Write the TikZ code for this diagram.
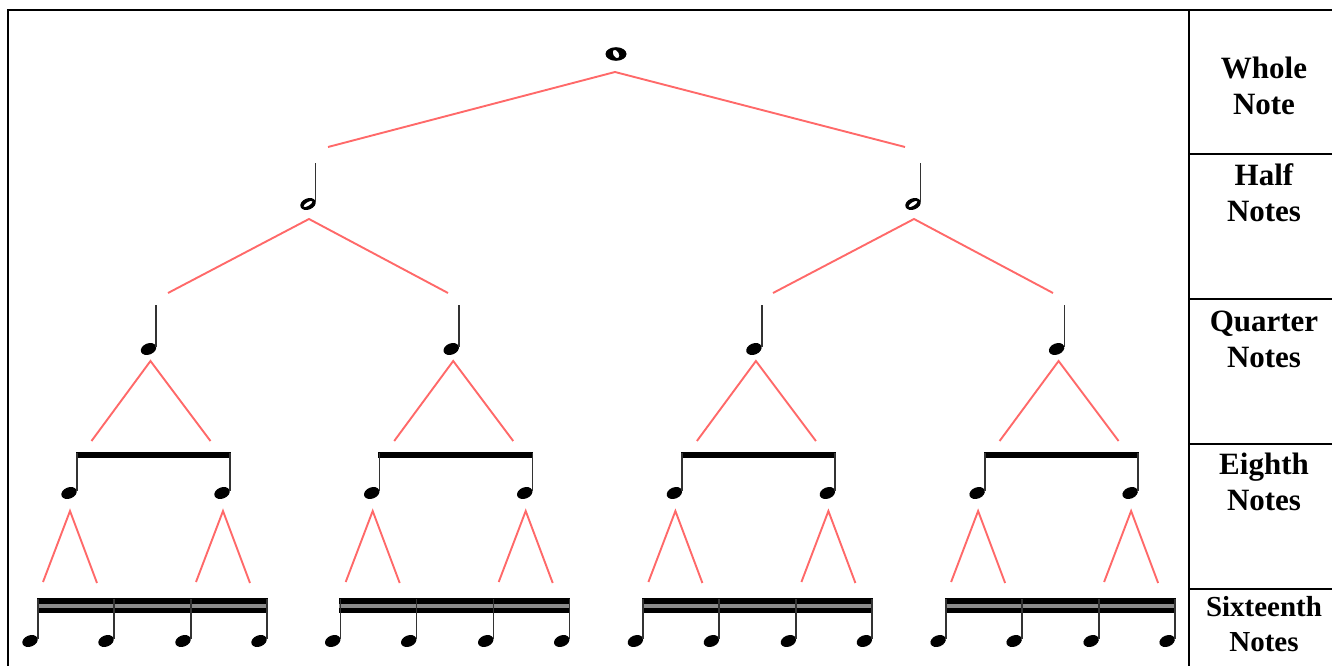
\documentclass[tikz,border=0pt]{standalone}
\usepackage{fontspec}
\setmainfont{Liberation Serif}
\definecolor{treered}{RGB}{255,105,105}
\begin{document}
\begin{tikzpicture}[x=1pt,y=-1pt,
  frame/.style={line width=2.4pt,black},
  branch/.style={treered,line width=1.9pt},
  stem/.style={black!80,line width=1.8pt},
  beam/.style={fill=black},
  label/.style={font=\bfseries\fontsize{31}{36}\selectfont,align=center,inner sep=0pt},
  qhead/.pic={\fill[rotate=22] (0,0) ellipse [x radius=8, y radius=5.6];},
  hhead/.pic={\fill[even odd rule,rotate=22] (0,0) ellipse [x radius=8, y radius=5.6] [rotate=10] (0,0) ellipse [x radius=5.2, y radius=1.9];},
  whead/.pic={\fill[even odd rule] (0,0) ellipse [x radius=10.5, y radius=6.8] [rotate=-60] (0,0) ellipse [x radius=4.6, y radius=2.8];}
]
\useasboundingbox (0,0) rectangle (1332,666);
% frame and table
\coordinate (tl) at (8,10);
\coordinate (tr) at (1332,10);
\coordinate (bl) at (8,666);
\coordinate (dt) at (1189,10);
\coordinate (db) at (1189,666);
\draw[frame] (bl) -- (tl) -- (tr);
\draw[frame] (dt) -- (db);
\foreach \yy [count=\i] in {154,299,444,589} {
  \coordinate (rl\i) at (1189,\yy);
  \coordinate (rr\i) at (1332,\yy);
  \draw[frame] (rl\i) -- (rr\i);
}
\node[label] (lw) at (1264,86) {Whole\\Note};
\node[label] (lh) at (1264,193) {Half\\Notes};
\node[label] (lq) at (1264,339) {Quarter\\Notes};
\node[label] (le) at (1264,482) {Eighth\\Notes};
\node[label,font=\bfseries\fontsize{29}{35}\selectfont] (ls) at (1264,624) {Sixteenth\\Notes};

% whole note
\pic (w) at (616,54) {whead};
\coordinate (wa) at (615,72);
\coordinate (wl) at (328,147);
\coordinate (wr) at (905,147);
\draw[branch] (wl) -- (wa) -- (wr);

% half notes
\foreach \h [count=\i] in {308,913} {
  \pic (h\i) at (\h,204) {hhead};
  \coordinate (hs\i) at (\h+7.5,202);
  \coordinate (ht\i) at (\h+7.5,163);
  \draw[stem] (hs\i) -- (ht\i);
  \coordinate (ha\i) at (\h+1,219);
  \coordinate (hl\i) at (\h-140,293);
  \coordinate (hr\i) at (\h+140,293);
  \draw[branch] (hl\i) -- (ha\i) -- (hr\i);
}

% quarter, eighth, sixteenth groups
\foreach \k in {0,1,2,3} {
  \pgfmathsetmacro{\q}{148.5+302.7*\k}
  \pic (q\k) at (\q,349) {qhead};
  \coordinate (qs\k) at (\q+7.8,347);
  \coordinate (qt\k) at (\q+7.8,305);
  \draw[stem] (qs\k) -- (qt\k);
  \coordinate (qa\k) at (\q+2,361);
  \coordinate (ql\k) at (\q-57,441);
  \coordinate (qr\k) at (\q+62,441);
  \draw[branch] (ql\k) -- (qa\k) -- (qr\k);
  % eighths
  \pgfmathsetmacro{\ea}{\q-79.5}
  \pgfmathsetmacro{\eb}{\q+73.5}
  \coordinate (eb1\k) at (\ea+6.6,452);
  \coordinate (eb2\k) at (\eb+8.7,457.5);
  \fill[beam] (eb1\k) rectangle (eb2\k);
  \foreach \e [count=\j] in {\ea,\eb} {
    \pic (e\k\j) at (\e,493) {qhead};
    \coordinate (es\k\j) at (\e+7.8,491);
    \coordinate (et\k\j) at (\e+7.8,453);
    \draw[stem] (es\k\j) -- (et\k\j);
    \coordinate (ea\k\j) at (\e+1,511);
    \coordinate (el\k\j) at (\e-26,582);
    \coordinate (er\k\j) at (\e+28,583);
    \draw[branch] (el\k\j) -- (ea\k\j) -- (er\k\j);
  }
  % sixteenths
  \pgfmathsetmacro{\sa}{\ea-39}
  \pgfmathsetmacro{\sd}{\eb+37}
  \coordinate (sb1\k) at (\sa+6.6,598);
  \coordinate (sb2\k) at (\sd+8.7,604);
  \coordinate (sb3\k) at (\sa+6.6,607.5);
  \coordinate (sb4\k) at (\sd+8.7,613);
  \fill[beam] (sb1\k) rectangle (sb2\k);
  \fill[black!45] (sb2\k -| sb1\k) rectangle (sb3\k -| sb4\k);
  \fill[beam] (sb3\k) rectangle (sb4\k);
  \foreach \s [count=\j] in {\ea-39,\ea+37,\eb-39,\eb+37} {
    \pgfmathsetmacro{\sx}{\s}
    \pic (s\k\j) at (\sx,641) {qhead};
    \coordinate (ss\k\j) at (\sx+7.8,639);
    \coordinate (st\k\j) at (\sx+7.8,599);
    \draw[stem] (ss\k\j) -- (st\k\j);
  }
}
\end{tikzpicture}
\end{document}
